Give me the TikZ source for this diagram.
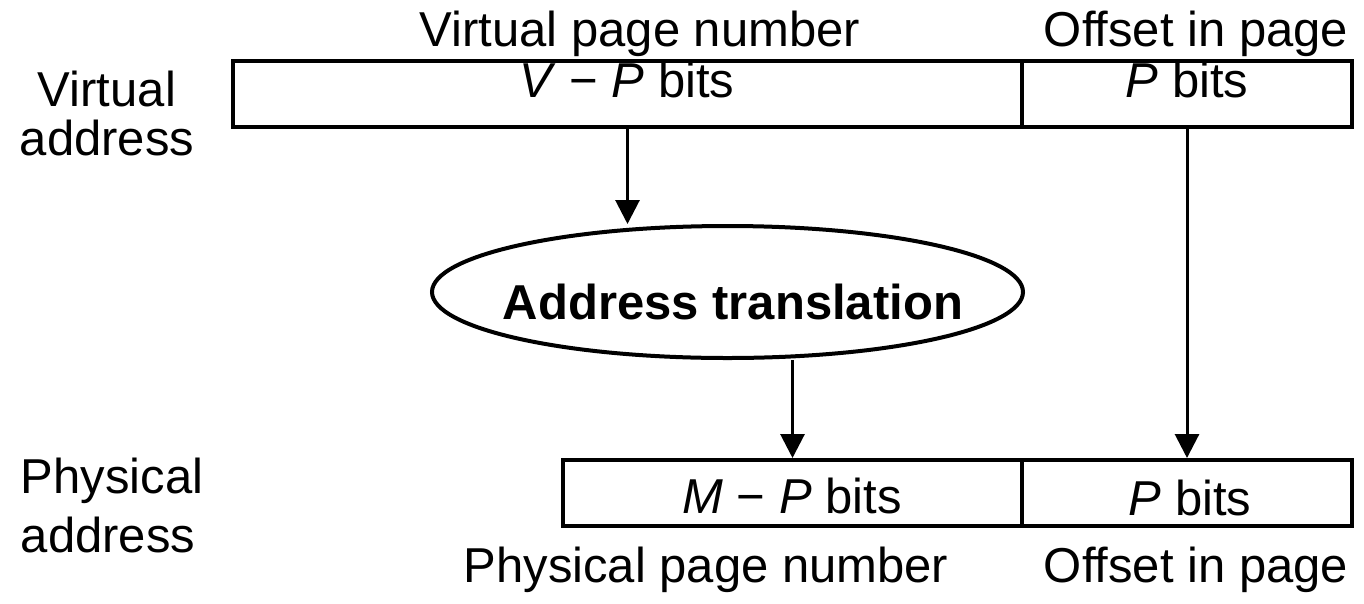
\documentclass[tikz,border=0pt]{standalone}
\usepackage{fontspec}
\setmainfont{Liberation Sans}
\usetikzlibrary{arrows.meta,shapes.geometric}
\begin{document}
\begin{tikzpicture}[x=1pt,y=-1pt,
  box/.style={draw,line width=4pt,inner sep=0pt,minimum height=66pt},
  lbl/.style={font=\fontsize{49}{49}\selectfont,inner sep=0pt,anchor=base},
  arr/.style={line width=3pt,-{Triangle[width=24pt,length=24pt]}}]
\useasboundingbox (0,0) rectangle (1364,603);
% boxes
\node[box,minimum width=789pt] (va1) at (627.5,94) {};
\node[box,minimum width=330pt] (va2) at (1187,94) {};
\node[box,minimum width=459pt] (pa1) at (792.5,493) {};
\node[box,minimum width=330pt] (pa2) at (1187,493) {};
% ellipse
\node[draw,ellipse,line width=4pt,minimum width=591pt,minimum height=132pt,inner sep=0pt] (xl) at (727.5,292) {};
\node[lbl,font=\fontsize{49}{49}\selectfont\bfseries] (xltext) at (733,319) {Address translation};
% texts
\node[lbl] (vpn) at (640,46) {Virtual page number};
\node[lbl] (voff) at (1196,46) {Offset in page};
\node[lbl] (vbits) at (627,97) {\textit{V} − \textit{P} bits};
\node[lbl] (vpbits) at (1187,97) {\textit{P} bits};
\node[lbl] (va) at (107,106) {Virtual};
\node[lbl] (vb) at (107,155) {address};
\node[lbl] (pa) at (112,493) {Physical};
\node[lbl] (pb) at (108,552) {address};
\node[lbl] (mbits) at (792,513) {\textit{M} − \textit{P} bits};
\node[lbl] (ppbits) at (1190,515) {\textit{P} bits};
\node[lbl] (ppn) at (706,582) {Physical page number};
\node[lbl] (poff) at (1196,582) {Offset in page};
% arrows
\draw[arr] (va1.south) -- (va1.south |- xl.north);
\draw[arr] (pa1.north |- xl.south) -- (pa1.north);
\draw[arr] (va2.south) -- (pa2.north);
\end{tikzpicture}
\end{document}
